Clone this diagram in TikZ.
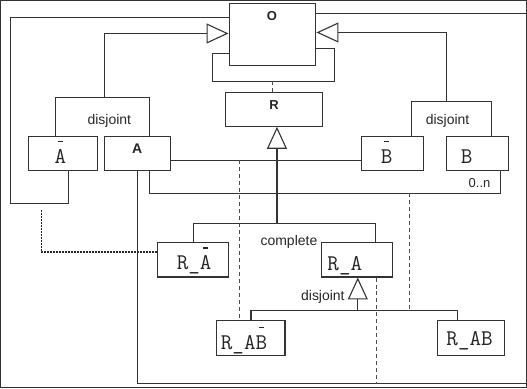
\documentclass[tikz,border=0pt]{standalone}
\usepackage{fontspec}
\setmainfont{Liberation Sans}
\usetikzlibrary{arrows.meta}
\newcommand\mybar[1]{\ooalign{#1\cr\hidewidth\rule[0.95em]{0.2em}{0.06em}\hidewidth\cr}}
\begin{document}
\begin{tikzpicture}[x=1pt,y=-1pt,
  every path/.style={line width=1.1pt, draw=black!80},
  box/.style={draw=black!80, line width=1.1pt, inner sep=0pt, fill=white},
  lbl/.style={inner sep=0pt, text=black!85},
  bold/.style={lbl, font=\fontsize{13}{13}\selectfont\bfseries},
  mono/.style={lbl, font=\fontsize{22.5}{22.5}\selectfont\ttfamily},
  sans/.style={lbl, font=\fontsize{14}{14}\selectfont},
  genarrow/.style={-{Triangle[open, length=22pt, width=20pt, line width=1.1pt]}},
  dashedl/.style={draw=black!70, line width=1pt, dash pattern=on 4pt off 3pt},
  dotl/.style={draw=black!85, line width=1.6pt, dash pattern=on 1.6pt off 1.4pt}
]
\useasboundingbox (0,0) rectangle (527,388);

% boxes
\node[box, minimum width=87pt, minimum height=62pt] (O) at (272.5,34) {};
\node[box, minimum width=98pt, minimum height=34pt] (R) at (274,109) {};
\node[box, minimum width=69pt, minimum height=34pt] (Abar) at (62.5,153) {};
\node[box, minimum width=66pt, minimum height=34pt] (A) at (137,153) {};
\node[box, minimum width=62pt, minimum height=34pt] (Bbar) at (393,153) {};
\node[box, minimum width=62pt, minimum height=34pt] (B) at (478,153) {};
\node[box, minimum width=71pt, minimum height=35pt] (RAbar) at (192.5,259.5) {};
\node[box, minimum width=71pt, minimum height=35pt] (RA) at (357.5,259.5) {};
\node[box, minimum width=69pt, minimum height=35pt] (RABbar) at (250.5,338.5) {};
\node[box, minimum width=67pt, minimum height=35pt] (RAB) at (471.5,338.5) {};

% box texts
\node[bold] (tO) at (272,16) {O};
\node[bold] (tR) at (274,105) {R};
\node[bold, font=\fontsize{14}{14}\selectfont\bfseries] (tA) at (137,148) {A};
\node[mono, anchor=base] (tAbar) at (60,163) {\mybar{A}};
\node[mono, anchor=base] (tBbar) at (387,163) {\mybar{B}};
\node[mono, anchor=base] (tB) at (467,163) {B};
\node[mono, anchor=base] (tRAbar) at (194,270) {R\_\mybar{A}};
\node[mono, anchor=base] (tRA) at (345,271) {R\_A};
\node[mono, anchor=base] (tRABbar) at (244,350) {R\_A\mybar{B}};
\node[mono, anchor=base] (tRAB) at (470,346) {R\_AB};

% other labels
\node[sans] (dj1) at (109,121) {disjoint};
\node[sans] (dj2) at (448,121) {disjoint};
\node[sans] (dj3) at (323,297) {disjoint};
\node[sans] (cpl) at (289,242) {complete};
\node[sans, font=\fontsize{13}{13}\selectfont] (mult) at (480,183) {0..n};

% self association on O and association class R
\draw (O.east |- 0,48) -- (335,48) -- (335,81) -- (212,81) -- (212,53) -- (O.west |- 0,53);
\coordinate (loopb) at (273,81);
\draw[dashedl] (loopb) -- (loopb |- R.north);

% generalisation Abar, A -> O
\draw (Abar.north -| 55,0) |- (149,97) -- (A.north -| 149,0);
\draw[genarrow] (104,97) |- (O.west |- 0,33);

% generalisation Bbar, B -> O
\draw (Bbar.north -| 412,0) |- (492,101) -- (B.north -| 492,0);
\draw[genarrow] (447,101) |- (O.east |- 0,32);

% association Abar -- O
\draw (O.west |- 0,17) -- (10,17) -- (10,203) -- (68,203) -- (Abar.south -| 68,0);

% association A -- O
\draw (A.south) -- (137,384) -- (530,384) -- (530,13) -- (O.east |- 0,13);

% association A -- Bbar
\draw (A.east |- 0,160) -- (Bbar.west |- 0,160);
\coordinate (ab1) at (239,160);
\draw[dashedl] (ab1) -- (ab1 |- RABbar.north);

% association A -- B
\draw (A.south -| 149,0) -- (149,193) -- (501,193) -- (B.south -| 501,0);
\coordinate (ab2) at (410,193);
\draw[dashedl] (ab2) -- (410,311);

% dashed from R_A to A--O association
\coordinate (ab3) at (377,384);
\draw[dashedl] (RA.south -| ab3) -- (ab3);

% generalisation R_Abar, R_A -> R
\draw (RAbar.north -| 193,0) |- (376,223) -- (RA.north -| 376,0);
\draw[genarrow] (277,223) -- (R.south -| 277,0);

% generalisation R_ABbar, R_AB -> R_A
\draw (RABbar.north -| 251,0) |- (458,311) -- (RAB.north -| 458,0);
\draw[genarrow] (358,311) -- (RA.south -| 358,0);

% dotted link
\coordinate (d0) at (41,210);
\draw[dotl] (d0) |- (RAbar.west |- 0,252);
\end{tikzpicture}
\end{document}
